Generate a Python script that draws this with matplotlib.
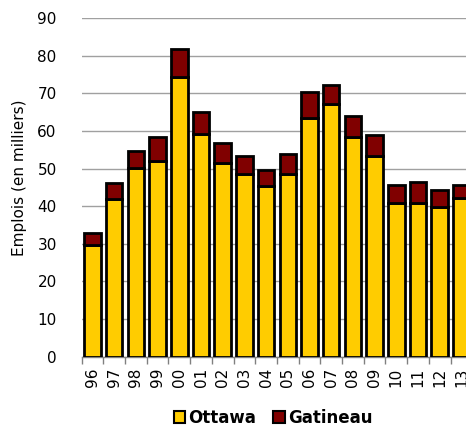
import matplotlib.pyplot as plt

years = ["96", "97", "98", "99", "00", "01", "02", "03", "04",
         "05", "06", "07", "08", "09", "10", "11", "12", "13"]
ottawa = [29.6, 41.9, 50.1, 52.0, 74.5, 59.1, 51.4, 48.5, 45.4,
          48.6, 63.6, 67.1, 58.5, 53.4, 40.8, 41.0, 39.7, 42.1]
gatineau = [3.4, 4.2, 4.7, 6.5, 7.3, 6.0, 5.4, 4.9, 4.3,
            5.2, 6.9, 5.1, 5.5, 5.6, 4.8, 5.5, 4.6, 3.5]

plt.rcParams['font.family'] = ['DejaVu Sans']

fig = plt.figure(figsize=(4.66, 4.25), dpi=100)
ax = fig.add_axes([0.1753, 0.1607, 0.838, 0.7963])

x = list(range(len(years)))
w = 0.76
ax.bar(x, ottawa, width=w, color="#FFCC00", edgecolor="black",
       linewidth=2, label="Ottawa", zorder=3)
ax.bar(x, gatineau, width=w, bottom=ottawa, color="#800000",
       edgecolor="black", linewidth=2, label="Gatineau", zorder=3)

ax.set_xlim(-0.5, len(years) - 0.5)
ax.set_ylim(0, 90)
ax.set_yticks(range(0, 91, 10))
ax.yaxis.grid(True, color="#A0A0A0", linewidth=1, zorder=0)

ax.set_xticks(x)
ax.set_xticklabels(years, rotation=90, fontsize=11)
ax.set_xticks([i - 0.5 for i in range(len(years) + 1)], minor=True)
ax.tick_params(axis="x", which="major", length=0, pad=8)
ax.tick_params(axis="x", which="minor", length=5, color="#808080",
               width=1, direction="out")
ax.tick_params(axis="y", length=0, pad=18, labelsize=11)

for side in ["top", "right", "left"]:
    ax.spines[side].set_visible(False)
ax.spines["bottom"].set_color("#808080")
ax.spines["bottom"].set_linewidth(1)

ax.set_ylabel("Emplois (en milliers)", fontsize=11)
ax.yaxis.set_label_coords(-0.14, 0.53)

leg = ax.legend(loc="upper center", bbox_to_anchor=(0.49, -0.135), ncol=2,
                frameon=False, prop={"weight": "bold", "size": 12},
                handlelength=0.7, handleheight=0.7, handletextpad=0.2,
                columnspacing=1.0, borderaxespad=0)
for h in leg.legend_handles:
    h.set_linewidth(1.5)

fig.savefig("out.png", dpi=100)
